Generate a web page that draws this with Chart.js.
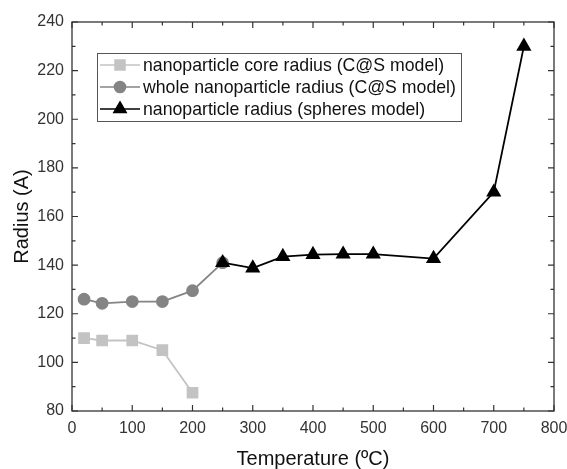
<!DOCTYPE html>
<html>
<head>
<meta charset="utf-8">
<script src="https://cdn.jsdelivr.net/npm/chart.js@4.4.0/dist/chart.umd.min.js"></script>
<style>
  html, body { margin: 0; padding: 0; background: #fff; }
  #wrap { width: 567px; height: 469px; position: relative; }
</style>
</head>
<body>
<div id="wrap"><canvas id="radiusChart"></canvas></div>
<script>
// data
const tempCore = [20, 50, 100, 150, 200];
const coreRadius = [110, 109, 109, 105, 87.5];

const tempWhole = [20, 50, 100, 150, 200, 250];
const wholeRadius = [126, 124.3, 125, 125, 129.5, 141];

const tempSpheres = [250, 300, 350, 400, 450, 500, 600, 700, 750];
const spheresRadius = [141, 138.8, 143.5, 144.3, 144.5, 144.5, 142.7, 170, 230];

const xTicks = [0, 100, 200, 300, 400, 500, 600, 700, 800];
const yTicks = [80, 100, 120, 140, 160, 180, 200, 220, 240];

const FONT = '"Liberation Sans", Arial, sans-serif';

const toPoints = (xs, ys) => xs.map((x, i) => ({x: x, y: ys[i]}));

// frame + inward ticks like the original plot
const frameTicks = {
    id: 'frameTicks',
    afterDraw(chart) {
        const {ctx, chartArea: a, scales: {x, y}} = chart;
        ctx.save();
        ctx.strokeStyle = '#333';
        ctx.lineWidth = 1.3;
        ctx.strokeRect(a.left, a.top, a.right - a.left, a.bottom - a.top);
        ctx.lineWidth = 1.2;
        ctx.beginPath();
        for (let v = 0; v <= 800; v += 50) {
            const px = x.getPixelForValue(v);
            const len = v % 100 === 0 ? 6 : 3.5;
            ctx.moveTo(px, a.bottom); ctx.lineTo(px, a.bottom - len);
            ctx.moveTo(px, a.top); ctx.lineTo(px, a.top + len);
        }
        for (let v = 80; v <= 240; v += 10) {
            const py = y.getPixelForValue(v);
            const len = v % 20 === 0 ? 6 : 3.5;
            ctx.moveTo(a.left, py); ctx.lineTo(a.left + len, py);
            ctx.moveTo(a.right, py); ctx.lineTo(a.right - len, py);
        }
        ctx.stroke();
        ctx.restore();
    }
};

// legend box with line + marker, drawn inside the plot
const boxLegend = {
    id: 'boxLegend',
    afterDraw(chart) {
        const ctx = chart.ctx;
        const bx = 97, by = 53, bw = 364, bh = 68;
        ctx.save();
        ctx.fillStyle = '#fff';
        ctx.fillRect(bx, by, bw, bh);
        ctx.strokeStyle = '#555';
        ctx.lineWidth = 1;
        ctx.strokeRect(bx + 0.5, by + 0.5, bw, bh);
        ctx.font = '17.7px ' + FONT;
        ctx.textBaseline = 'middle';
        chart.data.datasets.forEach((ds, i) => {
            const ly = by + 12 + i * 22;
            ctx.strokeStyle = ds.borderColor;
            ctx.lineWidth = 1.6;
            ctx.beginPath();
            ctx.moveTo(bx + 3, ly); ctx.lineTo(bx + 43, ly);
            ctx.stroke();
            ctx.fillStyle = ds.pointBackgroundColor;
            ctx.strokeStyle = ds.pointBackgroundColor;
            Chart.helpers.drawPoint(ctx, {pointStyle: ds.pointStyle, radius: ds.pointRadius, rotation: 0, borderWidth: 1}, bx + 23, ly);
            ctx.fillStyle = '#111';
            ctx.fillText(ds.label, bx + 46, ly + 1);
        });
        ctx.restore();
    }
};

const dataRadius = () => ({
    datasets: [
        {
            label: 'nanoparticle core radius (C@S model)',
            data: toPoints(tempCore, coreRadius),
            borderColor: '#c3c3c3',
            pointBackgroundColor: '#c3c3c3',
            pointBorderColor: '#c3c3c3',
            pointStyle: 'rect',
            pointRadius: 7,
            borderWidth: 1.8,
            order: 3
        },
        {
            label: 'whole nanoparticle radius (C@S model)',
            data: toPoints(tempWhole, wholeRadius),
            borderColor: '#848484',
            pointBackgroundColor: '#848484',
            pointBorderColor: '#848484',
            pointStyle: 'circle',
            pointRadius: 5.5,
            borderWidth: 1.8,
            order: 2
        },
        {
            label: 'nanoparticle radius (spheres model)',
            data: toPoints(tempSpheres, spheresRadius),
            borderColor: '#000',
            pointBackgroundColor: '#000',
            pointBorderColor: '#000',
            pointStyle: 'triangle',
            pointRadius: 7,
            borderWidth: 1.8,
            order: 1
        }
    ]
});

const configRadius = () => {
    return {
        type: 'line',
        data: dataRadius(),
        plugins: [frameTicks, boxLegend],
        options: {
            responsive: true,
            maintainAspectRatio: false,
            animation: false,
            layout: { padding: {left: 0, top: 22, right: 0, bottom: 0} },
            plugins: {
                legend: { display: false },
                tooltip: { enabled: false }
            },
            scales: {
                x: {
                    type: 'linear',
                    min: 0, max: 800,
                    afterBuildTicks: (s) => { s.ticks = xTicks.map(v => ({value: v})); },
                    afterFit: (s) => { s.height = 58; s.paddingRight = 13; s.paddingLeft = 0; },
                    grid: { display: false, drawTicks: false },
                    border: { display: false },
                    ticks: { color: '#333', font: {size: 16, family: FONT}, padding: 8, maxRotation: 0 },
                    title: { display: true, text: 'Temperature (ºC)', color: '#111', font: {size: 20, family: FONT}, padding: {top: 0, bottom: -2} }
                },
                y: {
                    type: 'linear',
                    min: 80, max: 240,
                    afterBuildTicks: (s) => { s.ticks = yTicks.map(v => ({value: v})); },
                    afterFit: (s) => { s.width = 72; },
                    grid: { display: false, drawTicks: false },
                    border: { display: false },
                    ticks: { color: '#333', font: {size: 16, family: FONT}, padding: 8 },
                    title: { display: true, text: 'Radius (A)', color: '#111', font: {size: 20, family: FONT}, padding: {top: 10, bottom: 0} }
                }
            }
        }
    };
};

new Chart(document.getElementById('radiusChart'), configRadius());
</script>
</body>
</html>
